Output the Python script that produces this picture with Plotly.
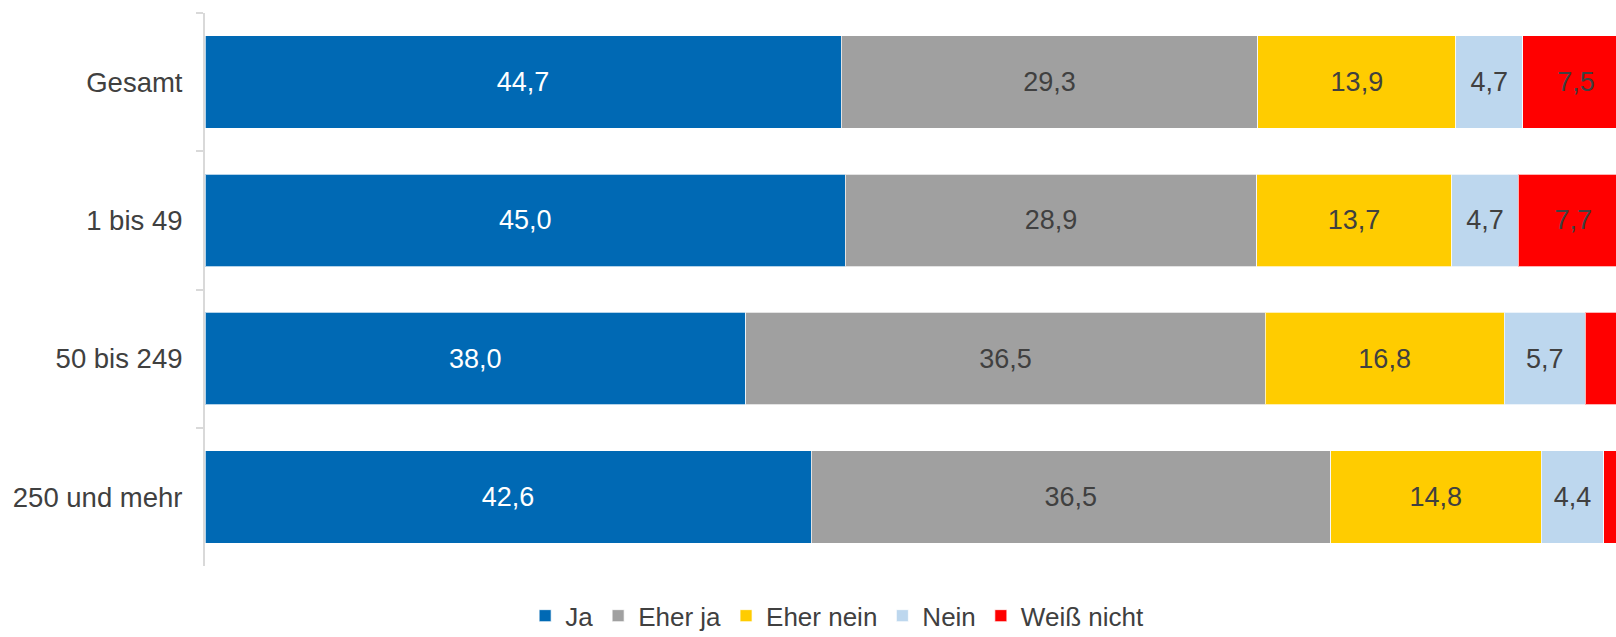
import plotly.graph_objects as go

categories = ["Gesamt", "1 bis 49", "50 bis 249", "250 und mehr"]
series_names = ["Ja", "Eher ja", "Eher nein", "Nein", "Weiß nicht"]
ja = [44.7, 45.0, 38.0, 42.6]
eher_ja = [29.3, 28.9, 36.5, 36.5]
eher_nein = [13.9, 13.7, 16.8, 14.8]
nein = [4.7, 4.7, 5.7, 4.4]
weiss_nicht = [7.5, 7.7, 3.0, 1.7]

colors = ["#0069B4", "#A0A0A0", "#FFCC00", "#BDD7EE", "#FF0000"]
text_colors = ["#FFFFFF", "#404040", "#404040", "#404040", "#404040"]
FONT = "Liberation Sans, Arial, sans-serif"

def fmt(v, show=True):
    return f"{v:.1f}".replace(".", ",") if show else ""

fig = go.Figure()
all_series = [ja, eher_ja, eher_nein, nein, weiss_nicht]
for name, vals, col, tcol in zip(series_names, all_series, colors, text_colors):
    if name == "Weiß nicht":
        texts = [fmt(v, v >= 5) for v in vals]
    else:
        texts = [fmt(v) for v in vals]
    fig.add_trace(go.Bar(
        name=name, y=categories, x=vals, orientation="h",
        marker=dict(color=col, line=dict(color="rgba(255,255,255,0.7)", width=1)),
        text=texts, textposition="inside", insidetextanchor="middle",
        textangle=0,
        textfont=dict(color=tcol, size=27, family=FONT),
        hoverinfo="skip",
    ))

fig.update_layout(
    barmode="stack",
    bargap=0.33,
    width=1616, height=637,
    margin=dict(l=205, r=0, t=13, b=71, autoexpand=False),
    paper_bgcolor="white", plot_bgcolor="white",
    font=dict(family=FONT, color="#404040", size=26),
    showlegend=True,
    legend=dict(
        orientation="h", x=0.448, xanchor="center", y=-0.09, yanchor="middle",
        font=dict(size=26, color="#404040", family=FONT),
        itemwidth=30, traceorder="normal", itemclick=False,
    ),
)
fig.update_xaxes(range=[0, 99.16], visible=False, showgrid=False, zeroline=False,
                 fixedrange=True, automargin=False)
fig.update_yaxes(
    autorange="reversed", showline=True, linecolor="#D9D9D9", linewidth=2,
    ticks="outside", tickson="boundaries", ticklen=7, tickcolor="#D9D9D9", tickwidth=2,
    ticklabelstandoff=15, showgrid=False, automargin=False, fixedrange=True,
    tickfont=dict(size=27.5, color="#404040", family=FONT),
)

fig.write_html(
    "out.html",
    config={"displayModeBar": False},
    post_script="document.body.style.margin='0';document.body.style.overflow='hidden';",
)
